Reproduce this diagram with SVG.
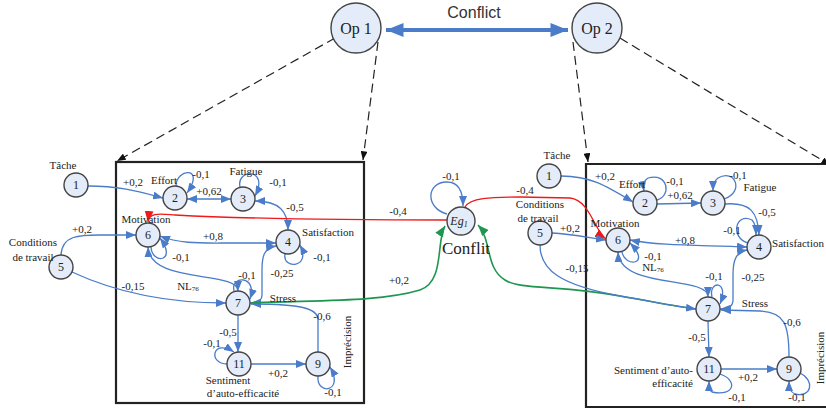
<svg xmlns="http://www.w3.org/2000/svg" width="826" height="410" viewBox="0 0 826 410">
<style>
text{font-family:"Liberation Serif","Times New Roman",serif;fill:#222;}
.lb{font-size:11px;text-anchor:middle;}
.nn{font-size:12px;text-anchor:middle;dominant-baseline:central;}
.node{fill:#e3ecf8;stroke:#444;stroke-width:1.4;}
.e{fill:none;stroke:#4a7cc9;stroke-width:1.3;marker-end:url(#ab);}
.d{marker-start:url(#ab);}
.red{fill:none;stroke:#f01818;stroke-width:1.3;marker-end:url(#ar);}
.grn{fill:none;stroke:#1e9650;stroke-width:1.6;marker-end:url(#ag);}
.dash{fill:none;stroke:#222;stroke-width:1.2;stroke-dasharray:9,5;marker-end:url(#ak);}
.box{fill:none;stroke:#222;stroke-width:2.2;}
</style>
<defs>
<marker id="ab" viewBox="0 0 10 8" refX="10" refY="4" markerWidth="10" markerHeight="8" markerUnits="userSpaceOnUse" orient="auto-start-reverse"><path d="M0,0 L10,4 L0,8 z" fill="#4a7cc9"/></marker>
<marker id="ar" viewBox="0 0 10 8" refX="10" refY="4" markerWidth="11" markerHeight="9" markerUnits="userSpaceOnUse" orient="auto"><path d="M0,0 L10,4 L0,8 z" fill="#f01818"/></marker>
<marker id="ag" viewBox="0 0 10 8" refX="10" refY="4" markerWidth="11" markerHeight="9" markerUnits="userSpaceOnUse" orient="auto"><path d="M0,0 L10,4 L0,8 z" fill="#1e9650"/></marker>
<marker id="ak" viewBox="0 0 10 8" refX="10" refY="4" markerWidth="9" markerHeight="7" markerUnits="userSpaceOnUse" orient="auto"><path d="M0,0 L10,4 L0,8 z" fill="#111"/></marker>
<marker id="abig" viewBox="0 0 10 8" refX="10" refY="4" markerWidth="20" markerHeight="14" markerUnits="userSpaceOnUse" orient="auto-start-reverse"><path d="M0,0 L10,4 L0,8 z" fill="#4a7cc9"/></marker>
</defs>

<!-- boxes -->
<rect class="box" x="116" y="162" width="248" height="241"/>
<path class="box" d="M828,164 L586,164 L586,407 L828,407"/>

<g id="connectors">
<!-- top -->
<path d="M386,30 L568,30" fill="none" stroke="#4a7cc9" stroke-width="4" marker-start="url(#abig)" marker-end="url(#abig)"/>
<path class="dash" d="M335,38 L117,161"/>
<path class="dash" d="M378,42 L363,160"/>
<path class="dash" d="M573,42 L588,162"/>
<path class="dash" d="M620,38 L830,165" marker-end="none"/>

<!-- left model -->
<path class="e" d="M88,186 C120,186 140,192 163,198"/>
<path class="e" d="M176,186 C176,168 206,166 187,193"/>
<path class="e d" d="M187,199 L231,199"/>
<path class="e" d="M240,187 C236,168 270,168 255,196"/>
<path class="e d" d="M255,201 C280,201 288,212 288,230"/>
<path class="e" d="M285,254 C282,270 312,268 300,245"/>
<path class="e d" d="M160,236 C180,244 200,243 230,243 L276,243"/>
<path class="e" d="M151,247 C152,265 178,262 160,238"/>
<path class="e d" d="M148,247 C150,285 238,270 238,291"/>
<path class="e" d="M234,291 C230,275 258,275 250,299"/>
<path class="e d" d="M276,246 C264,248 262,256 262,270 L262,295 C262,301 256,303 250,303"/>
<path class="e" d="M318,352 L318,320 C318,308 300,304 251,304"/>
<path class="e" d="M238,315 L238,352"/>
<path class="e" d="M227,364 C208,364 212,338 234,352"/>
<path class="e" d="M251,364 L306,364"/>
<path class="e" d="M318,376 C316,396 345,392 330,367"/>
<path class="e" d="M61,255 C62,235 80,235 100,235 L136,235"/>
<path class="e" d="M72,272 C100,285 150,303 226,303"/>

<!-- Eg -->
<path class="e" d="M447,214 C425,208 426,182 447,182 C460,182 463,195 463,206"/>
<path class="red" d="M447,220 C350,220 250,219 175,215 C160,214 149,212 148,222"/>
<path class="grn" d="M251,303 C320,300 380,302 420,290 C445,282 436,240 445,226"/>
<path class="red" d="M465,207 C470,198 490,197 520,197 L570,198 C590,200 595,232 606,239"/>
<path class="grn" d="M696,309 C680,307 660,303 620,296 C560,285 520,290 505,280 C485,268 492,240 478,225"/>

<!-- right model -->
<path class="e" d="M561,176 C590,176 605,185 633,202"/>
<path class="e" d="M657,200 C672,196 668,172 648,178 C643,181 643,186 644,191"/>
<path class="e" d="M657,204 L701,203"/>
<path class="e" d="M724,199 C745,192 735,168 718,178 C714,181 713,185 713,191"/>
<path class="e" d="M725,204 C750,202 758,212 759,235"/>
<path class="e" d="M748,243 C730,238 735,212 752,220 C755,223 756,228 756,235"/>
<path class="e d" d="M630,240 C660,246 700,245 747,247"/>
<path class="e" d="M622,252 C625,268 652,265 630,243"/>
<path class="e d" d="M618,252 C620,290 708,275 708,297"/>
<path class="e" d="M712,297 C708,280 730,280 720,304"/>
<path class="e d" d="M747,250 C736,252 733,260 733,275 L733,300 C733,307 728,309 720,309"/>
<path class="e" d="M789,357 C789,325 785,312 760,311 L721,310"/>
<path class="e" d="M708,321 L709,357"/>
<path class="e" d="M720,374 C738,380 735,397 712,392 C709,390 709,387 709,381"/>
<path class="e" d="M721,369 L777,369"/>
<path class="e" d="M800,373 C815,380 812,398 795,394 C790,392 789,388 789,381"/>
<path class="e" d="M552,233 C570,234 585,237 606,240"/>
<path class="e" d="M540,245 C540,270 560,285 620,296 C660,303 680,307 696,309"/>
</g>

<!-- top nodes -->
<g id="op1"><circle class="node" cx="356" cy="28" r="25"/><text x="356" y="34" style="font-size:16px;text-anchor:middle">Op 1</text></g>
<g id="op2"><circle class="node" cx="597" cy="28" r="25"/><text x="597" y="34" style="font-size:16px;text-anchor:middle">Op 2</text></g>
<text x="474" y="18" style="font-family:'Liberation Sans',Arial,sans-serif;font-size:16px;text-anchor:middle;fill:#333">Conflict</text>

<!-- left nodes -->
<g id="L1"><circle class="node" cx="76" cy="185" r="12"/><text class="nn" x="76" y="185">1</text></g>
<g id="L2"><circle class="node" cx="175" cy="198" r="12"/><text class="nn" x="175" y="198">2</text></g>
<g id="L3"><circle class="node" cx="243" cy="199" r="12"/><text class="nn" x="243" y="199">3</text></g>
<g id="L4"><circle class="node" cx="288" cy="242" r="12"/><text class="nn" x="288" y="242">4</text></g>
<g id="L5"><circle class="node" cx="61" cy="267" r="12"/><text class="nn" x="61" y="267">5</text></g>
<g id="L6"><circle class="node" cx="148" cy="235" r="12"/><text class="nn" x="148" y="235">6</text></g>
<g id="L7"><circle class="node" cx="238" cy="303" r="12"/><text class="nn" x="238" y="303">7</text></g>
<g id="L11"><circle class="node" cx="239" cy="364" r="12"/><text class="nn" x="239" y="364">11</text></g>
<g id="L9"><circle class="node" cx="318" cy="364" r="12"/><text class="nn" x="318" y="364">9</text></g>

<!-- Eg -->
<g id="Eg"><circle class="node" cx="461" cy="221" r="14"/><text x="459" y="225" style="font-size:12px;font-style:italic;text-anchor:middle">Eg<tspan font-size="8" dy="2">1</tspan></text></g>

<!-- right nodes -->
<g id="R1"><circle class="node" cx="549" cy="176" r="12"/><text class="nn" x="549" y="176">1</text></g>
<g id="R2"><circle class="node" cx="645" cy="203" r="12"/><text class="nn" x="645" y="203">2</text></g>
<g id="R3"><circle class="node" cx="713" cy="203" r="12"/><text class="nn" x="713" y="203">3</text></g>
<g id="R4"><circle class="node" cx="759" cy="247" r="12"/><text class="nn" x="759" y="247">4</text></g>
<g id="R5"><circle class="node" cx="540" cy="233" r="12"/><text class="nn" x="540" y="233">5</text></g>
<g id="R6"><circle class="node" cx="618" cy="240" r="12"/><text class="nn" x="618" y="240">6</text></g>
<g id="R7"><circle class="node" cx="708" cy="309" r="12"/><text class="nn" x="708" y="309">7</text></g>
<g id="R11"><circle class="node" cx="709" cy="369" r="12"/><text class="nn" x="709" y="369">11</text></g>
<g id="R9"><circle class="node" cx="789" cy="369" r="12"/><text class="nn" x="789" y="369">9</text></g>

<!-- left labels -->
<g id="left-labels">
<text class="lb" x="63" y="169">Tâche</text>
<text class="lb" x="133" y="186">+0,2</text>
<text class="lb" x="164" y="184">Effort</text>
<text class="lb" x="201" y="178">-0,1</text>
<text class="lb" x="209" y="195">+0,62</text>
<text class="lb" x="246" y="175">Fatigue</text>
<text class="lb" x="278" y="186">-0,1</text>
<text class="lb" x="295" y="211">-0,5</text>
<text class="lb" x="328" y="236">Satisfaction</text>
<text class="lb" x="322" y="261">-0,1</text>
<text class="lb" x="282" y="277">-0,25</text>
<text class="lb" x="213" y="240">+0,8</text>
<text class="lb" x="146" y="223">Motivation</text>
<text class="lb" x="181" y="261">-0,1</text>
<text class="lb" x="188" y="290">NL<tspan font-size="7" dy="1">76</tspan></text>
<text class="lb" x="133" y="290">-0,15</text>
<text class="lb" x="82" y="233">+0,2</text>
<text class="lb" x="33" y="246">Conditions</text>
<text class="lb" x="33" y="261">de travail</text>
<text class="lb" x="247" y="279">-0,1</text>
<text class="lb" x="283" y="302">Stress</text>
<text class="lb" x="322" y="320">-0,6</text>
<text class="lb" transform="translate(351,342) rotate(-90)">Imprécision</text>
<text class="lb" x="228" y="336">-0,5</text>
<text class="lb" x="212" y="347">-0,1</text>
<text class="lb" x="278" y="377">+0,2</text>
<text class="lb" x="228" y="384">Sentiment</text>
<text class="lb" x="243" y="397">d’auto-efficacité</text>
<text class="lb" x="333" y="396">-0,1</text>
</g>

<!-- middle labels -->
<g id="mid-labels">
<text class="lb" x="451" y="180">-0,1</text>
<text class="lb" x="398" y="215">-0,4</text>
<text class="lb" x="399" y="284">+0,2</text>
<text x="466" y="254" style="font-size:17px;text-anchor:middle">Conflit</text>
<text class="lb" x="525" y="194">-0,4</text>
<text class="lb" x="540" y="208">Conditions</text>
<text class="lb" x="538" y="222">de travail</text>
</g>

<!-- right labels -->
<g id="right-labels">
<text class="lb" x="557" y="159">Tâche</text>
<text class="lb" x="605" y="180">+0,2</text>
<text class="lb" x="632" y="188">Effort</text>
<text class="lb" x="675" y="185">-0,1</text>
<text class="lb" x="680" y="199">+0,62</text>
<text class="lb" x="738" y="179">-0,1</text>
<text class="lb" x="760" y="191">Fatigue</text>
<text class="lb" x="767" y="216">-0,5</text>
<text class="lb" x="732" y="234">-0,1</text>
<text class="lb" x="798" y="247">Satisfaction</text>
<text class="lb" x="685" y="244">+0,8</text>
<text class="lb" x="753" y="281">-0,25</text>
<text class="lb" x="714" y="280">-0,1</text>
<text class="lb" x="615" y="227">Motivation</text>
<text class="lb" x="653" y="260">-0,1</text>
<text class="lb" x="653" y="271">NL<tspan font-size="7" dy="1">76</tspan></text>
<text class="lb" x="570" y="232">+0,2</text>
<text class="lb" x="577" y="272">-0,15</text>
<text class="lb" x="755" y="307">Stress</text>
<text class="lb" x="792" y="326">-0,6</text>
<text class="lb" transform="translate(824,358) rotate(-90)">Imprécision</text>
<text class="lb" x="697" y="341">-0,5</text>
<text class="lb" x="693" y="374" style="text-anchor:end">Sentiment d’auto-</text>
<text class="lb" x="693" y="387" style="text-anchor:end">efficacité</text>
<text class="lb" x="748" y="381">+0,2</text>
<text class="lb" x="737" y="401">-0,1</text>
<text class="lb" x="797" y="401">-0,1</text>
</g>
</svg>
